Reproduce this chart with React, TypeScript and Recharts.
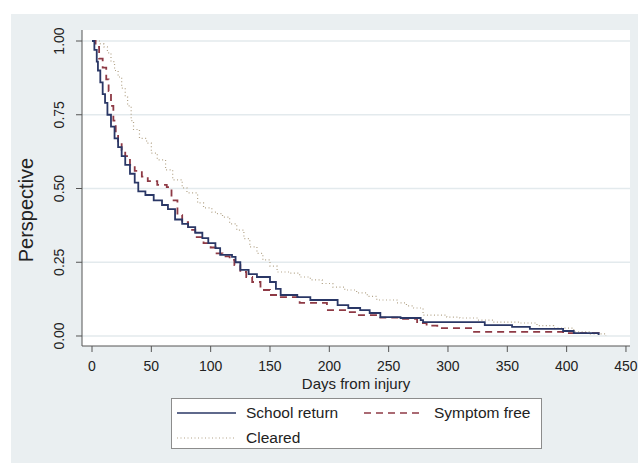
import React from 'react';
import { LineChart, Line, XAxis, YAxis, CartesianGrid, Label } from 'recharts';

// Kaplan-Meier style step curves
const schoolReturn = [
  { day: 0, value: 1.0 }, { day: 2, value: 0.97 }, { day: 4, value: 0.93 }, { day: 5, value: 0.9 },
  { day: 7, value: 0.86 }, { day: 9, value: 0.82 }, { day: 11, value: 0.79 }, { day: 13, value: 0.75 },
  { day: 16, value: 0.71 }, { day: 19, value: 0.67 }, { day: 22, value: 0.64 }, { day: 25, value: 0.61 },
  { day: 28, value: 0.58 }, { day: 32, value: 0.55 }, { day: 36, value: 0.52 }, { day: 39, value: 0.49 },
  { day: 45, value: 0.478 }, { day: 52, value: 0.46 }, { day: 59, value: 0.444 }, { day: 64, value: 0.43 },
  { day: 70, value: 0.395 }, { day: 76, value: 0.38 }, { day: 81, value: 0.369 }, { day: 87, value: 0.35 },
  { day: 93, value: 0.332 }, { day: 98, value: 0.315 }, { day: 104, value: 0.298 }, { day: 108, value: 0.275 },
  { day: 118, value: 0.268 }, { day: 121, value: 0.25 }, { day: 125, value: 0.224 }, { day: 132, value: 0.21 },
  { day: 139, value: 0.2 }, { day: 150, value: 0.183 }, { day: 155, value: 0.16 }, { day: 159, value: 0.139 },
  { day: 173, value: 0.132 }, { day: 184, value: 0.122 }, { day: 207, value: 0.105 }, { day: 216, value: 0.095 },
  { day: 226, value: 0.088 }, { day: 234, value: 0.078 }, { day: 243, value: 0.064 }, { day: 260, value: 0.061 },
  { day: 277, value: 0.054 }, { day: 279, value: 0.047 }, { day: 331, value: 0.037 }, { day: 354, value: 0.031 },
  { day: 369, value: 0.024 }, { day: 397, value: 0.017 }, { day: 406, value: 0.01 }, { day: 427, value: 0.003 },
];

const symptomFree = [
  { day: 0, value: 1.0 }, { day: 3, value: 0.98 }, { day: 6, value: 0.94 }, { day: 9, value: 0.91 },
  { day: 12, value: 0.87 }, { day: 14, value: 0.83 }, { day: 16, value: 0.78 }, { day: 18, value: 0.73 },
  { day: 20, value: 0.69 }, { day: 22, value: 0.66 }, { day: 25, value: 0.63 }, { day: 28, value: 0.61 },
  { day: 32, value: 0.58 }, { day: 36, value: 0.56 }, { day: 42, value: 0.54 }, { day: 47, value: 0.525 },
  { day: 55, value: 0.512 }, { day: 63, value: 0.505 }, { day: 67, value: 0.46 }, { day: 72, value: 0.41 },
  { day: 76, value: 0.386 }, { day: 81, value: 0.36 }, { day: 87, value: 0.335 }, { day: 94, value: 0.315 },
  { day: 100, value: 0.3 }, { day: 105, value: 0.28 }, { day: 110, value: 0.27 }, { day: 116, value: 0.258 },
  { day: 120, value: 0.24 }, { day: 125, value: 0.217 }, { day: 130, value: 0.2 }, { day: 135, value: 0.183 },
  { day: 142, value: 0.156 }, { day: 150, value: 0.139 }, { day: 156, value: 0.132 }, { day: 175, value: 0.112 },
  { day: 198, value: 0.088 }, { day: 215, value: 0.081 }, { day: 223, value: 0.071 }, { day: 243, value: 0.062 },
  { day: 260, value: 0.058 }, { day: 274, value: 0.044 }, { day: 282, value: 0.035 }, { day: 291, value: 0.027 },
  { day: 321, value: 0.014 }, { day: 397, value: 0.01 }, { day: 427, value: 0.003 },
];

const cleared = [
  { day: 0, value: 1.0 }, { day: 7, value: 0.99 }, { day: 10, value: 0.98 }, { day: 13, value: 0.96 },
  { day: 16, value: 0.93 }, { day: 19, value: 0.9 }, { day: 22, value: 0.878 }, { day: 25, value: 0.84 },
  { day: 28, value: 0.81 }, { day: 30, value: 0.78 }, { day: 33, value: 0.73 }, { day: 35, value: 0.7 },
  { day: 40, value: 0.67 }, { day: 46, value: 0.654 }, { day: 50, value: 0.62 }, { day: 55, value: 0.597 },
  { day: 62, value: 0.563 }, { day: 68, value: 0.529 }, { day: 76, value: 0.502 }, { day: 80, value: 0.485 },
  { day: 89, value: 0.451 }, { day: 94, value: 0.434 }, { day: 101, value: 0.42 }, { day: 105, value: 0.415 },
  { day: 110, value: 0.403 }, { day: 116, value: 0.38 }, { day: 122, value: 0.359 }, { day: 128, value: 0.33 },
  { day: 133, value: 0.302 }, { day: 139, value: 0.28 }, { day: 144, value: 0.258 }, { day: 150, value: 0.237 },
  { day: 156, value: 0.217 }, { day: 167, value: 0.213 }, { day: 175, value: 0.2 }, { day: 184, value: 0.19 },
  { day: 194, value: 0.178 }, { day: 203, value: 0.166 }, { day: 213, value: 0.156 }, { day: 223, value: 0.146 },
  { day: 232, value: 0.134 }, { day: 240, value: 0.122 }, { day: 257, value: 0.112 }, { day: 265, value: 0.102 },
  { day: 271, value: 0.095 }, { day: 279, value: 0.071 }, { day: 299, value: 0.064 }, { day: 310, value: 0.061 },
  { day: 325, value: 0.054 }, { day: 338, value: 0.047 }, { day: 361, value: 0.044 }, { day: 375, value: 0.035 },
  { day: 389, value: 0.027 }, { day: 406, value: 0.014 }, { day: 420, value: 0.007 }, { day: 433, value: 0.0 },
];

const xTicks = [0, 50, 100, 150, 200, 250, 300, 350, 400, 450];
const yTicks = [0, 0.25, 0.5, 0.75, 1];

const FONT = '"Liberation Sans", Arial, sans-serif';
const NAVY = '#2a3766';
const MAROON = '#8e3a45';
const TAN = '#b3a489';

const XTick = ({ x, y, payload }: any) => (
  <text x={x} y={y} dy={18.5} textAnchor="middle" fontSize={14} fill="#222" fontFamily={FONT}>
    {payload.value}
  </text>
);

const YTick = ({ x, y, payload }: any) => (
  <text
    x={x - 12}
    y={y}
    transform={`rotate(-90, ${x - 12}, ${y})`}
    textAnchor="middle"
    fontSize={14}
    fill="#222"
    fontFamily={FONT}
  >
    {Number(payload.value).toFixed(2)}
  </text>
);

const LegendBox = () => (
  <div
    style={{
      position: 'absolute',
      left: 160,
      top: 384,
      width: 369,
      height: 49,
      background: '#fff',
      border: '1px solid #8c8c8c',
    }}
  >
    <svg width={369} height={49} style={{ position: 'absolute', left: 0, top: 0 }}>
      <line x1={5} x2={64} y1={14} y2={14} stroke={NAVY} strokeWidth={1.6} />
      <line x1={192} x2={251} y1={14} y2={14} stroke={MAROON} strokeWidth={1.6} strokeDasharray="7 5" />
      <line x1={5} x2={64} y1={39} y2={39} stroke={TAN} strokeWidth={1.2} strokeDasharray="1 2.5" />
      <text x={74} y={19} fontSize={15.5} fill="#222" fontFamily={FONT}>School return</text>
      <text x={262} y={19} fontSize={15.5} fill="#222" fontFamily={FONT}>Symptom free</text>
      <text x={74} y={44} fontSize={15.5} fill="#222" fontFamily={FONT}>Cleared</text>
    </svg>
  </div>
);

export default function App() {
  return (
    <div style={{ position: 'absolute', left: 0, top: 0, width: 639, height: 465, background: '#fff' }}>
      <div style={{ position: 'absolute', left: 11, top: 14, width: 627, height: 449, background: '#eaeff1' }}>
        <LineChart
          width={627}
          height={449}
          margin={{ top: 16, right: 8, left: 11, bottom: 87 }}
          style={{ fontFamily: FONT }}
        >
          <CartesianGrid vertical={false} fill="#fff" stroke="#e3eaed" strokeWidth={1.5} horizontalValues={yTicks} />
          <XAxis
            dataKey="day"
            type="number"
            domain={[-8.43, 453.4]}
            ticks={xTicks}
            allowDataOverflow
            height={30}
            tickSize={6}
            tickMargin={0}
            tick={<XTick />}
            stroke="#555"
          >
            <Label
              content={({ viewBox }: any) => (
                <text
                  x={viewBox.x + viewBox.width / 2}
                  y={375}
                  textAnchor="middle"
                  fontSize={15}
                  fill="#222"
                  fontFamily={FONT}
                >
                  Days from injury
                </text>
              )}
            />
          </XAxis>
          <YAxis
            type="number"
            domain={[-0.0339, 1.0373]}
            ticks={yTicks}
            allowDataOverflow
            width={60}
            tickSize={6}
            tickMargin={0}
            tick={<YTick />}
            stroke="#555"
          >
            <Label
              content={() => (
                <text
                  x={22}
                  y={196}
                  transform="rotate(-90, 22, 196)"
                  textAnchor="middle"
                  fontSize={20}
                  fill="#222"
                  fontFamily={FONT}
                >
                  Perspective
                </text>
              )}
            />
          </YAxis>
          <Line
            data={cleared}
            dataKey="value"
            name="Cleared"
            type="stepAfter"
            stroke={TAN}
            strokeWidth={1.2}
            strokeDasharray="1 2.5"
            dot={false}
            isAnimationActive={false}
          />
          <Line
            data={symptomFree}
            dataKey="value"
            name="Symptom free"
            type="stepAfter"
            stroke={MAROON}
            strokeWidth={1.8}
            strokeDasharray="7 5"
            dot={false}
            isAnimationActive={false}
          />
          <Line
            data={schoolReturn}
            dataKey="value"
            name="School return"
            type="stepAfter"
            stroke={NAVY}
            strokeWidth={1.8}
            dot={false}
            isAnimationActive={false}
          />
        </LineChart>
        <LegendBox />
      </div>
    </div>
  );
}
